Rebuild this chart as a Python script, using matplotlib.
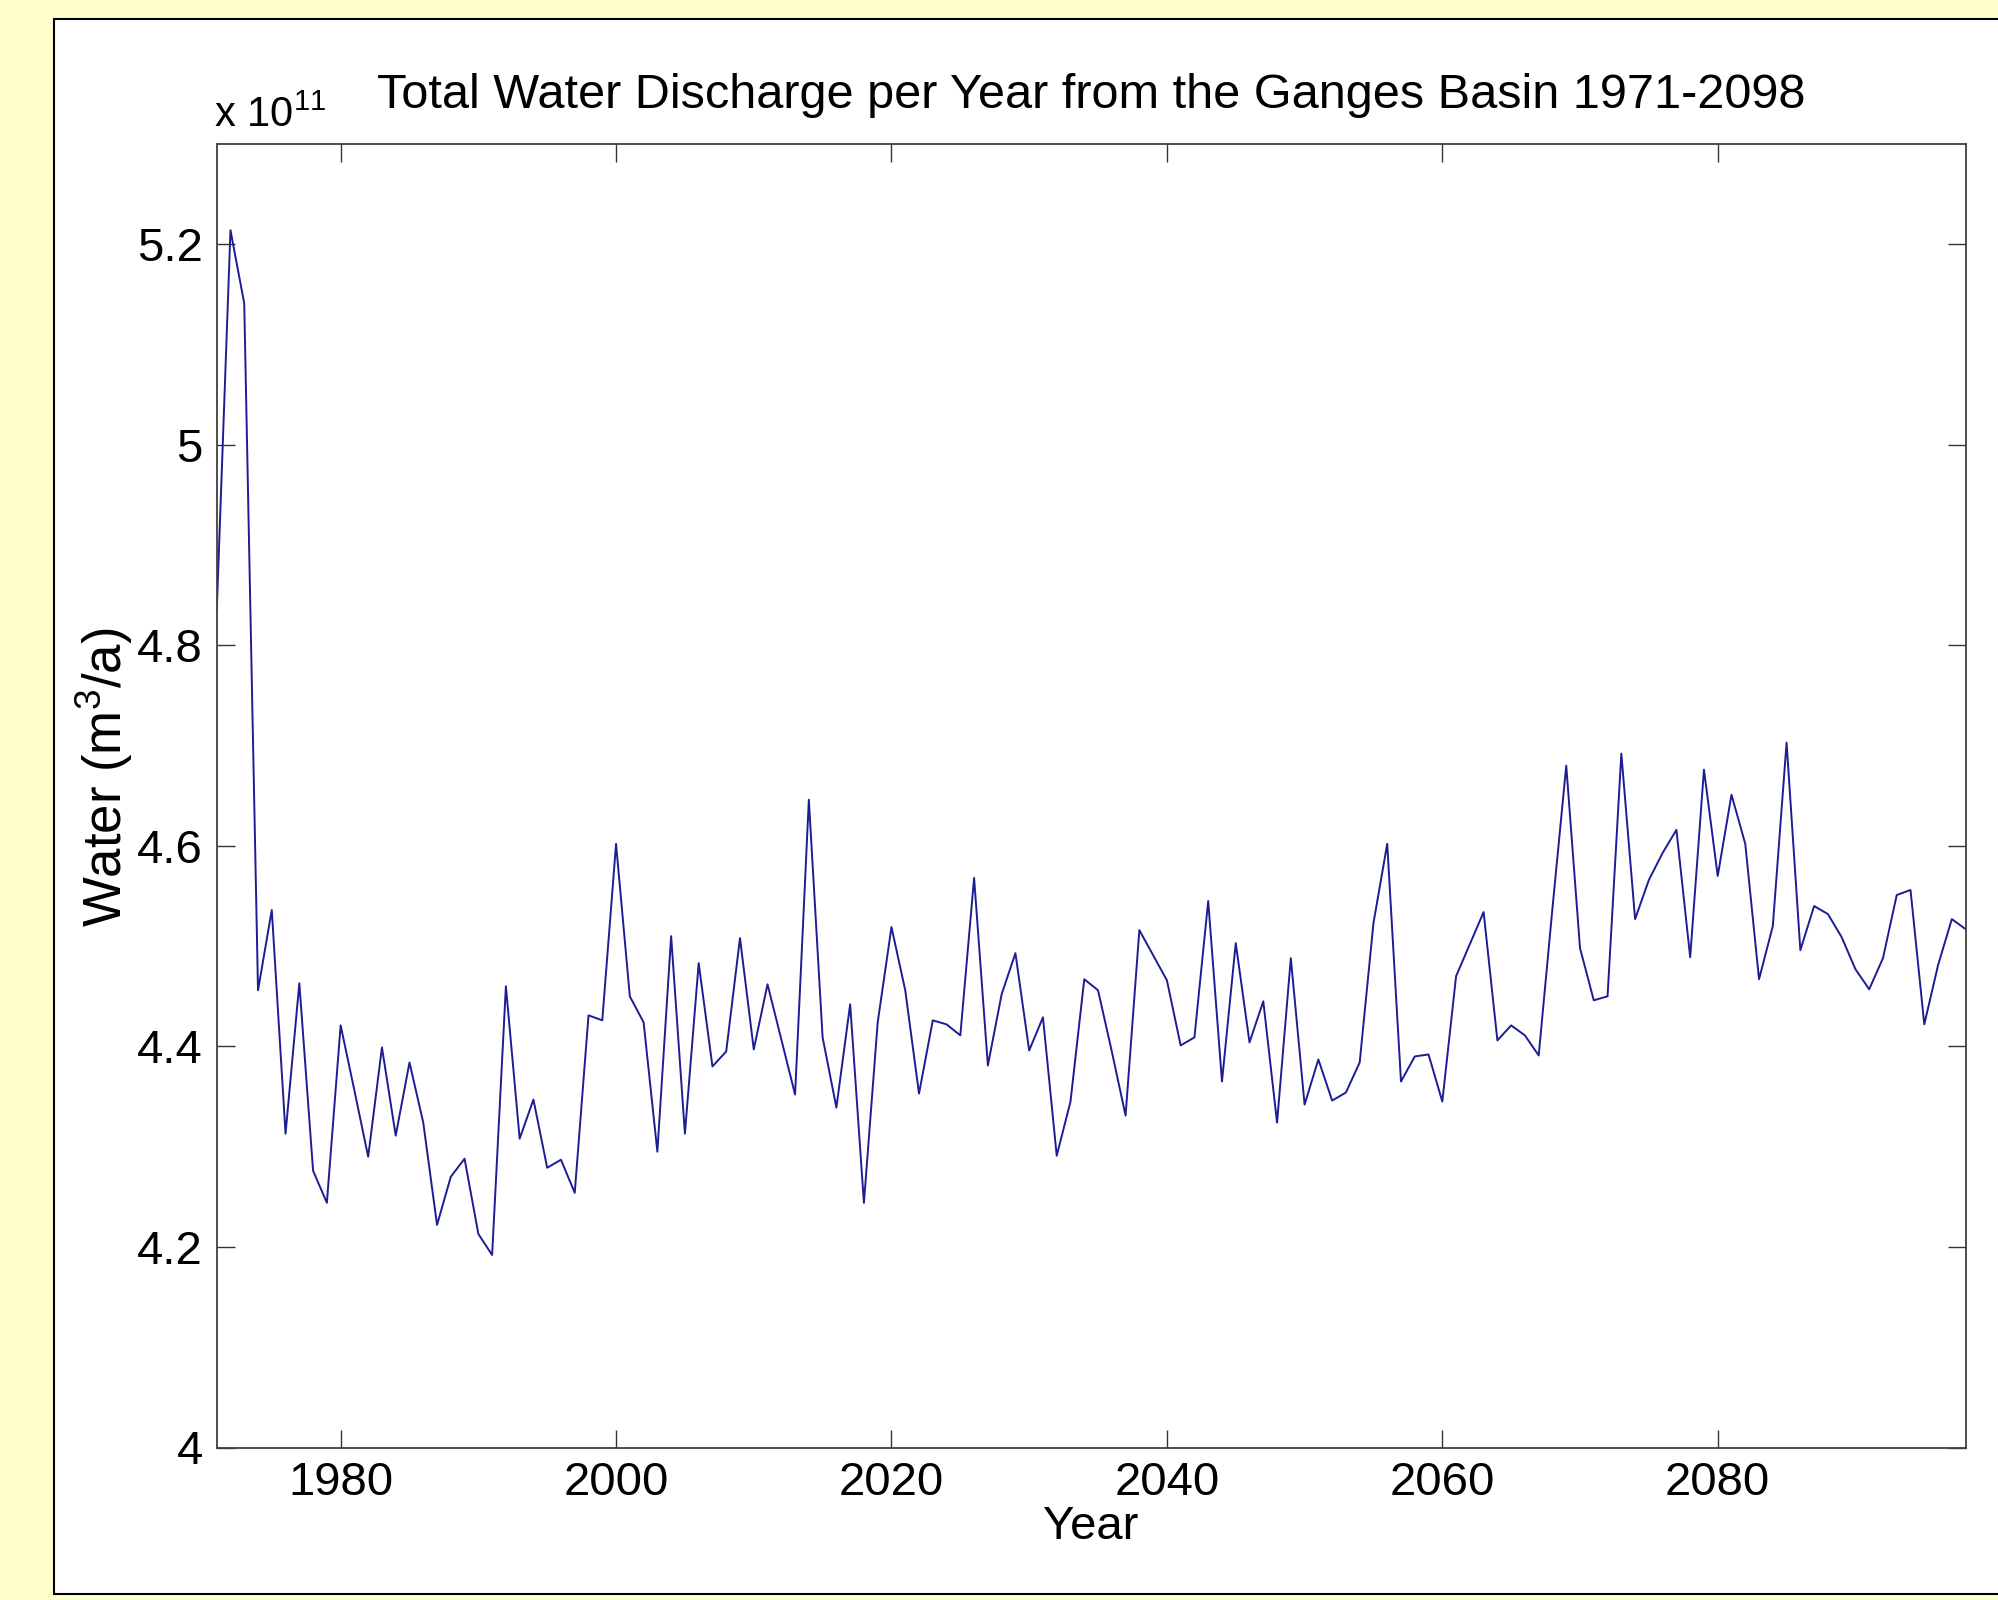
import matplotlib
matplotlib.use("Agg")
import matplotlib.pyplot as plt
from matplotlib.patches import Rectangle

years = list(range(1971, 2099))
discharge = [
    4.833, 5.214, 5.141, 4.456, 4.536, 4.313, 4.463, 4.276, 4.244, 4.421,  # 1971-1980
    4.356, 4.290, 4.399, 4.311, 4.384, 4.324, 4.222, 4.270, 4.288, 4.213,  # 1981-1990
    4.192, 4.460, 4.308, 4.347, 4.279, 4.287, 4.254, 4.431, 4.426, 4.602,  # 1991-2000
    4.450, 4.424, 4.295, 4.510, 4.313, 4.483, 4.380, 4.395, 4.508, 4.397,  # 2001-2010
    4.462, 4.407, 4.352, 4.646, 4.409, 4.339, 4.442, 4.244, 4.424, 4.519,  # 2011-2020
    4.456, 4.353, 4.426, 4.422, 4.411, 4.568, 4.381, 4.452, 4.493, 4.396,  # 2021-2030
    4.429, 4.291, 4.345, 4.467, 4.456, 4.395, 4.331, 4.516, 4.491, 4.466,  # 2031-2040
    4.401, 4.409, 4.545, 4.365, 4.503, 4.404, 4.445, 4.324, 4.488, 4.342,  # 2041-2050
    4.387, 4.346, 4.354, 4.384, 4.523, 4.602, 4.365, 4.390, 4.392, 4.345,  # 2051-2060
    4.470, 4.502, 4.534, 4.406, 4.421, 4.411, 4.391, 4.538, 4.680, 4.498,  # 2061-2070
    4.446, 4.450, 4.692, 4.527, 4.566, 4.593, 4.616, 4.489, 4.676, 4.570,  # 2071-2080
    4.651, 4.602, 4.467, 4.520, 4.703, 4.496, 4.540, 4.532, 4.509, 4.477,  # 2081-2090
    4.457, 4.488, 4.551, 4.556, 4.422, 4.481, 4.527, 4.517,                # 2091-2098
]
x_ticks = [1980, 2000, 2020, 2040, 2060, 2080]
y_ticks = [4.0, 4.2, 4.4, 4.6, 4.8, 5.0, 5.2]
y_tick_labels = ["4", "4.2", "4.4", "4.6", "4.8", "5", "5.2"]

title = "Total Water Discharge per Year from the Ganges Basin 1971-2098"

plt.rcParams['font.family'] = ['Liberation Sans', 'DejaVu Sans']
plt.rcParams['mathtext.fontset'] = 'custom'
plt.rcParams['mathtext.rm'] = 'Liberation Sans'
plt.rcParams['mathtext.it'] = 'Liberation Sans:italic'
plt.rcParams['mathtext.bf'] = 'Liberation Sans:bold'

W, H = 1999, 1600
fig = plt.figure(figsize=(W / 100, H / 100), dpi=100)
fig.patch.set_facecolor('#FFFFCC')

# white panel with black border (background axes)
bg = fig.add_axes([0, 0, 1, 1], zorder=-10)
bg.set_xlim(0, W)
bg.set_ylim(H, 0)
bg.axis('off')
bg.add_patch(Rectangle((54, 19), 2100, 1594 - 19, facecolor='white',
                       edgecolor='black', linewidth=1.5))

ax = fig.add_axes([216.7 / W, 1 - 1447.5 / H, (1965.6 - 216.7) / W, (1447.5 - 144) / H])
ax.plot(years, discharge, color='#1c1c94', linewidth=1.4)
ax.set_xlim(1971, 2098)
ax.set_ylim(4.0, 5.3)
ax.set_xticks(x_ticks)
ax.set_yticks(y_ticks)
ax.set_yticklabels(y_tick_labels)
ax.tick_params(direction='in', length=13, width=1.0, labelsize=34, color='#333333',
               top=True, right=True, pad=10)
for s in ax.spines.values():
    s.set_linewidth(1.3)
    s.set_color('#404040')

ax.set_xlabel("Year", fontsize=34, labelpad=0)
ax.set_ylabel(r"Water (m$\mathregular{^3}$/a)", fontsize=38)
ax.yaxis.set_label_coords(-0.047, 0.514)
ax.set_title(title, fontsize=35, pad=26)
fig.text(214 / W, 1 - 127 / H, r"x 10$\mathregular{^{11}}$", fontsize=30, ha='left', va='baseline')

fig.savefig("out.png", dpi=100, facecolor=fig.get_facecolor())
